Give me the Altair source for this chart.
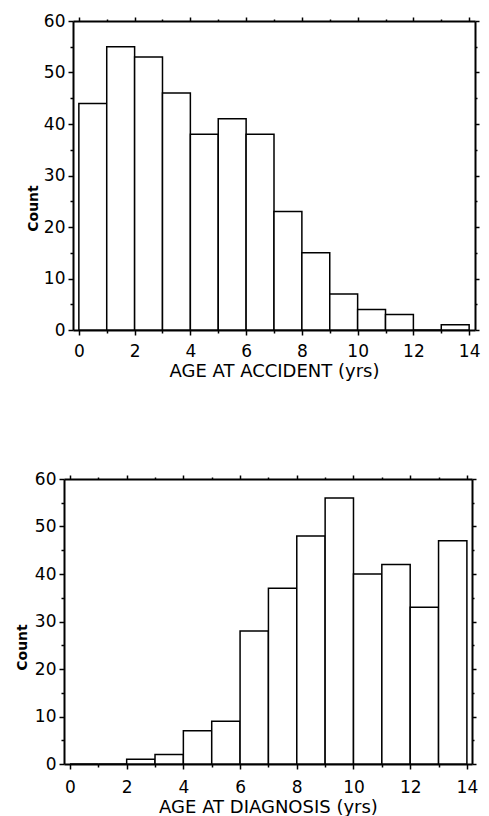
import altair as alt
import pandas as pd

# ---- data ----
bin_start = list(range(0, 14))
bin_end = list(range(1, 15))
accident_counts = [44, 55, 53, 46, 38, 41, 38, 23, 15, 7, 4, 3, 0, 1]
diagnosis_counts = [0, 0, 1, 2, 7, 9, 28, 37, 48, 56, 40, 42, 33, 47]
x_tick_values = list(range(0, 15))
y_tick_values = list(range(0, 61, 5))
x_label_step = 2
y_label_step = 10

FONT = "DejaVu Sans"


def x_tick_size(major, minor):
    return {"condition": {"test": f"datum.value % {x_label_step} === 0", "value": major}, "value": minor}


def y_tick_size(major, minor):
    return {"condition": {"test": f"datum.value % {y_label_step} === 0", "value": major}, "value": minor}


def panel(counts, title, width, height, xdom, lab_pad, title_x, title_y):
    df = pd.DataFrame({"start": bin_start, "end": bin_end, "count": counts})
    xs = alt.Scale(domain=xdom, nice=False, zero=False)
    ys = alt.Scale(domain=[0, 60], nice=False)
    common = dict(domain=True, domainColor="black", domainWidth=2,
                  tickColor="black", tickWidth=1.5, grid=False)
    bars = alt.Chart(df).mark_bar(fill="white", stroke="black", strokeWidth=1.5).encode(
        x=alt.X("start:Q", scale=xs,
                axis=alt.Axis(orient="bottom", values=x_tick_values,
                              labelExpr=f"datum.value % {x_label_step} === 0 ? datum.label : ''",
                              tickSize=x_tick_size(5, 3), labelPadding=lab_pad,
                              labelFont=FONT, labelFontSize=17, labelColor="black",
                              labelFlush=False, labelOverlap=False,
                              title=title, titleFont=FONT, titleFontSize=18,
                              titleFontWeight="normal", titleColor="black", titlePadding=3,
                              **common)),
        x2="end:Q",
        y=alt.Y("count:Q", scale=ys,
                axis=alt.Axis(orient="left", values=y_tick_values,
                              labelExpr=f"datum.value % {y_label_step} === 0 ? datum.label : ''",
                              tickSize=y_tick_size(5, 3), labelPadding=3,
                              labelFont=FONT, labelFontSize=17, labelColor="black",
                              labelFlush=False, labelOverlap=False,
                              title="Count", titleFont=FONT, titleFontSize=14,
                              titleFontWeight="bold", titleColor="black",
                              titleX=title_x, titleY=title_y,
                              **common)),
        y2=alt.datum(0),
    )
    mirror = alt.Chart(df).mark_bar(opacity=0).encode(
        x=alt.X("start:Q", scale=xs,
                axis=alt.Axis(orient="top", values=x_tick_values, labels=False,
                              tickSize=x_tick_size(4, 2), title=None, **common)),
        x2="end:Q",
        y=alt.Y("count:Q", scale=ys,
                axis=alt.Axis(orient="right", values=y_tick_values, labels=False,
                              tickSize=y_tick_size(4, 2), title=None, **common)),
        y2=alt.datum(0),
    )
    return alt.layer(mirror, bars).resolve_axis(x="independent", y="independent").properties(
        width=width, height=height)


def spacer(w):
    return alt.Chart(pd.DataFrame({"v": [0]})).mark_point(opacity=0).properties(width=w, height=10)


top = panel(accident_counts, "AGE AT ACCIDENT (yrs)", 402, 309, [-0.21, 14.21], 8, -33, 187)
bottom = panel(diagnosis_counts, "AGE AT DIAGNOSIS (yrs)", 408, 285, [-0.21, 14.18], 10, -34.5, 168)

chart = alt.vconcat(
    alt.hconcat(spacer(14), top, spacing=0),
    alt.hconcat(spacer(1), bottom, spacing=0),
    spacing=88,
).properties(
    padding={"left": 0, "top": 3, "right": 0, "bottom": 0}
).configure_view(strokeWidth=0).configure(background="white")

chart.save("out.html", embed_options={"renderer": "svg", "actions": False})
